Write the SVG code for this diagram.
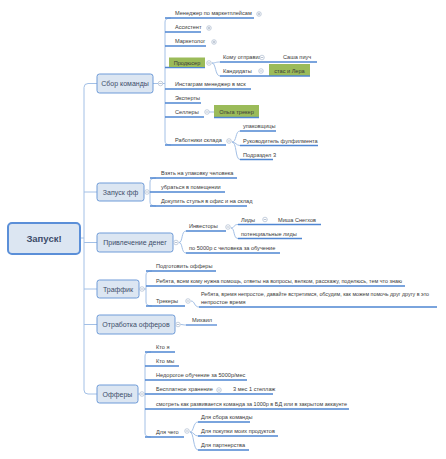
<svg xmlns="http://www.w3.org/2000/svg" width="446" height="459" viewBox="0 0 446 459">
<defs>
<style>
.cn{fill:none;stroke:#a3c0e6;stroke-width:1}
.ul{fill:none;stroke:#4f86d2;stroke-width:1.3}
.box{fill:#dce6f2;stroke:#6e9bd8;stroke-width:1}
.root{fill:#dce6f2;stroke:#5b8fd8;stroke-width:2}
.gb{fill:#9bbb59}
.t{font-family:"Liberation Sans",Arial,sans-serif;font-size:5.6px;fill:#3a3a3a}
.l1{font-family:"Liberation Sans",Arial,sans-serif;font-size:7px;fill:#3d4d6a;text-anchor:middle}
.rt{font-family:"Liberation Sans",Arial,sans-serif;font-size:9.5px;font-weight:bold;fill:#3d4d6a;text-anchor:middle}
.ic circle{fill:#fff;stroke:#9fb0c8;stroke-width:0.6}
.ic line{stroke:#8a9ab4;stroke-width:0.6}
</style>
<g id="mi" class="ic"><circle r="2.3"/><line x1="-1.3" y1="0" x2="1.3" y2="0"/></g>
<g id="pl" class="ic"><circle r="2.3"/><line x1="-1.3" y1="0" x2="1.3" y2="0"/><line x1="0" y1="-1.3" x2="0" y2="1.3"/></g>
</defs>
<rect width="446" height="459" fill="#fff"/>

<g id="connectors">
<path class="cn" d="M80,238 H84 M97,83.5 H88 Q84,83.5 84,87.5 V390 Q84,394 88,394 H97 M84,192 H97 M84,242.5 H97 M84,289 H97 M84,324.5 H97"/>
<path class="cn" d="M153,83.5 H165 M171,18 Q165,18 165,22 V141 Q165,145 171,145"/>
<path class="cn" d="M212,63 C216,63 215,62 220,62 M212,63 C216,63 215,76 220,76"/>
<path class="cn" d="M232,142 C237,142 235,131 240,131 M232,142 C236,142 236,145.5 240,145.5 M232,142 C237,142 235,159.5 240,159.5"/>
<path class="cn" d="M144,192 H150 M156,178 Q150,178 150,182 V202 Q150,206 156,206"/>
<path class="cn" d="M179,242.5 C183,242.5 181,231 186,231 M179,242.5 C183,242.5 181,253 186,253"/>
<path class="cn" d="M231,228 C235,228 233,224.5 238,224.5 M231,228 C235,228 233,238.5 238,238.5"/>
<path class="cn" d="M139,289 H146 M152,271 Q146,271 146,275 V302 Q146,306 152,306"/>
<path class="cn" d="M191,301 C195,301 194,307 199,307"/>
<path class="cn" d="M180.5,324.5 C183,324.5 183,325 186,325"/>
<path class="cn" d="M138,394 H145 M151,352 Q145,352 145,356 V433 Q145,437 151,437"/>
<path class="cn" d="M190,432 C194,432 193,422 198,422 M190,432 C194,432 194,436 198,436 M190,432 C194,432 193,450 198,450"/>
</g>

<g id="root">
<rect class="root" x="8" y="223" width="72" height="31" rx="4"/>
<text class="rt" x="44" y="242">Запуск!</text>
</g>

<g id="n-sbor">
<rect class="box" x="97" y="74" width="56" height="19" rx="2.5"/>
<text class="l1" x="125" y="86">Сбор команды</text>
<use href="#mi" x="160.5" y="83.5"/>
<path class="ul" d="M165,18 H254 M165,32 H201 M165,46 H206 M165,67.5 H169 M165,89 H251 M165,103 H201 M165,117 H204 M165,145 H226"/>
<text class="t" x="175" y="15">Менеджер по маркетплейсам</text>
<use href="#pl" x="259" y="14"/>
<text class="t" x="175" y="29">Ассистент</text>
<use href="#pl" x="209" y="28"/>
<text class="t" x="175" y="43">Маркетолог</text>
<use href="#pl" x="214" y="42"/>
<g id="n-prod">
<rect class="gb" x="169" y="57.5" width="36" height="10.5"/>
<line class="ul" x1="169" y1="67.6" x2="205" y2="67.6"/>
<text class="t" x="187" y="65" text-anchor="middle">Продюсер</text>
<use href="#mi" x="209" y="63"/>
<path class="ul" d="M220,62 H317 M220,76 H269"/>
<text class="t" x="223" y="59">Кому отправил</text>
<use href="#mi" x="262" y="57.5"/>
<text class="t" x="283" y="59">Саша пиуч</text>
<text class="t" x="223" y="73">Кандидаты</text>
<use href="#mi" x="261" y="71"/>
<rect class="gb" x="269" y="64" width="41" height="12"/>
<line class="ul" x1="269" y1="76" x2="310" y2="76"/>
<text class="t" x="289.5" y="72.5" text-anchor="middle">стас и Лера</text>
</g>
<text class="t" x="175" y="86">Инстаграм менеджер в мск</text>
<text class="t" x="175" y="100">Эксперты</text>
<text class="t" x="175" y="114">Селлеры</text>
<use href="#mi" x="207" y="112"/>
<path class="cn" d="M209.3,112 H214"/>
<rect class="gb" x="214" y="105" width="45" height="12.5"/>
<line class="ul" x1="214" y1="117.5" x2="259" y2="117.5"/>
<text class="t" x="236.5" y="113.5" text-anchor="middle">Ольга трекер</text>
<text class="t" x="175" y="142">Работники склада</text>
<use href="#mi" x="229" y="141"/>
<path class="ul" d="M240,131 H276 M240,145.5 H318 M240,159.5 H273"/>
<text class="t" x="243" y="128">упаковщицы</text>
<text class="t" x="243" y="142.5">Руководитель фулфилмента</text>
<text class="t" x="243" y="156.5">Подраздел 3</text>
</g>

<g id="n-zapusk">
<rect class="box" x="97" y="183" width="47" height="18" rx="2.5"/>
<text class="l1" x="120.5" y="194.5">Запуск фф</text>
<use href="#mi" x="147" y="192"/>
<path class="ul" d="M150,178 H237 M150,192 H225 M150,206 H247"/>
<text class="t" x="161" y="175">Взять на упаковку человека</text>
<text class="t" x="161" y="189">убраться в помещении</text>
<text class="t" x="161" y="203">Докупить стулья в офис и на склад</text>
</g>

<g id="n-dengi">
<rect class="box" x="97" y="233" width="76" height="19" rx="2.5"/>
<text class="l1" x="135" y="245">Привлечение денег</text>
<use href="#mi" x="176" y="242.5"/>
<path class="ul" d="M186,231 H226 M186,253 H280"/>
<text class="t" x="189" y="228">Инвесторы</text>
<use href="#mi" x="228" y="227"/>
<text class="t" x="189" y="250">по 5000р с человека за обучение</text>
<path class="ul" d="M238,224.5 H321 M238,238.5 H302"/>
<text class="t" x="241" y="221.5">Лиды</text>
<use href="#mi" x="265" y="219.5"/>
<text class="t" x="278" y="221.5">Миша Снегхов</text>
<text class="t" x="241" y="235.5">потенциальные лиды</text>
</g>

<g id="n-traffic">
<rect class="box" x="97" y="280" width="42" height="18" rx="2.5"/>
<text class="l1" x="118" y="291.5">Траффик</text>
<use href="#mi" x="142" y="289"/>
<path class="ul" d="M146,271 H216 M146,286 H405 M146,306 H185 M199,307 H437"/>
<text class="t" x="156" y="268">Подготовить офферы</text>
<text class="t" x="156" y="283" textLength="246" lengthAdjust="spacingAndGlyphs">Ребята, всем кому нужна помощь, ответы на вопросы, велком, расскажу, поделюсь, тем что знаю</text>
<text class="t" x="156" y="303">Трекеры</text>
<use href="#mi" x="188" y="301"/>
<text class="t" x="201" y="296" textLength="228" lengthAdjust="spacingAndGlyphs">Ребята, время непростое, давайте встретимся, обсудим, как можем помочь друг другу в это</text>
<text class="t" x="201" y="304">непростое время</text>
</g>

<g id="n-otrab">
<rect class="box" x="97" y="315" width="78" height="19" rx="2.5"/>
<text class="l1" x="136" y="327">Отработка офферов</text>
<use href="#mi" x="178" y="324.5"/>
<path class="ul" d="M186,325 H217"/>
<text class="t" x="192" y="322">Михаил</text>
</g>

<g id="n-offers">
<rect class="box" x="97" y="385" width="41" height="18" rx="2.5"/>
<text class="l1" x="117.5" y="396.5">Офферы</text>
<use href="#mi" x="142" y="394"/>
<path class="ul" d="M145,352 H175 M145,366 H179 M145,380 H247 M145,394 H273 M145,409 H349 M145,437 H184"/>
<text class="t" x="156" y="349">Кто я</text>
<text class="t" x="156" y="363">Кто мы</text>
<text class="t" x="156" y="377">Недорогое обучение за 5000р/мес</text>
<text class="t" x="156" y="391">Бесплатное хранение</text>
<use href="#mi" x="219" y="390"/>
<text class="t" x="233" y="391">3 мес 1 стеллаж</text>
<text class="t" x="156" y="406" textLength="191" lengthAdjust="spacingAndGlyphs">смотреть как развивается команда за 1000р в БД или в закрытом аккаунте</text>
<text class="t" x="156" y="434">Для чего</text>
<use href="#mi" x="187" y="431"/>
<path class="ul" d="M198,422 H250 M198,436 H278 M198,450 H249"/>
<text class="t" x="201" y="419">Для сбора команды</text>
<text class="t" x="201" y="433">Для покупки моих продуктов</text>
<text class="t" x="201" y="447">Для партнерства</text>
</g>
</svg>
